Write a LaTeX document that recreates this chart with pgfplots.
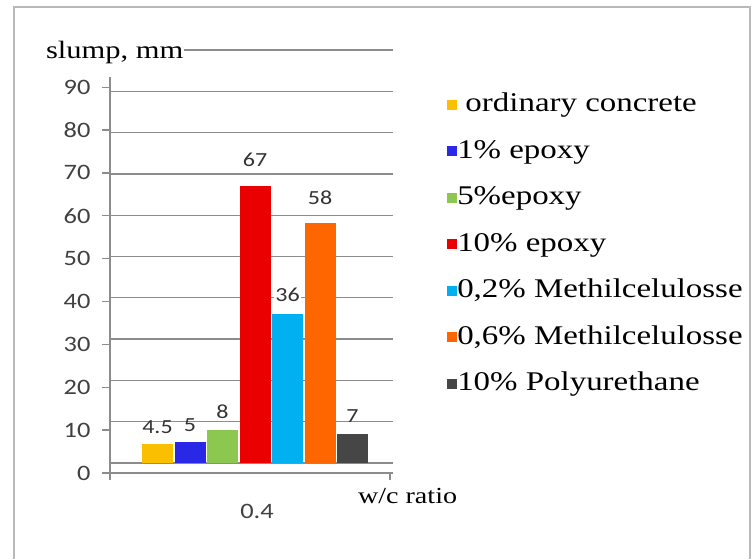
\documentclass[border=0pt]{standalone}
\usepackage{pgfplots}
\pgfplotsset{compat=1.18}
\usepackage{fontspec}
\setmainfont{Liberation Serif}[FakeStretch=1.2]
\newfontfamily\serifx{Liberation Serif}[FakeStretch=1.22]
\newfontfamily\calib{Carlito}[FakeStretch=1.2]
\definecolor{cA}{RGB}{250,192,0}
\definecolor{cB}{RGB}{40,40,230}
\definecolor{cC}{RGB}{140,200,80}
\definecolor{cD}{RGB}{235,0,0}
\definecolor{cE}{RGB}{0,176,240}
\definecolor{cF}{RGB}{255,102,0}
\definecolor{cG}{RGB}{70,70,70}
\definecolor{gridc}{RGB}{140,140,140}
\definecolor{tickc}{RGB}{64,64,64}
\begin{document}
\begin{tikzpicture}
\path (0,0) rectangle (752bp,559bp);
\draw[color=gray!55, line width=2bp] (14bp,0bp) -- (14bp,552bp) -- (750bp,552bp) -- (750bp,0bp);
\begin{axis}[
  at={(110bp,86bp)}, anchor=south west,
  scale only axis, width=283bp, height=423bp,
  xmin=-145, xmax=138, ymin=-2.424, ymax=100,
  ybar=1.5bp, bar width=31bp,
  axis x line*=bottom, axis y line*=left,
  axis line style={-, color=gridc, line width=1.3bp},
  y axis line style={draw=none},
  tick align=outside,
  ytick={-2.424,7.957,18.34,28.72,39.10,49.48,59.86,70.24,80.62,91.00},
  yticklabels={0,10,20,30,40,50,60,70,80,90},
  ytick style={color=gridc, line width=1.3bp},
  major tick length=8bp,
  yticklabel style={xshift=-8bp},
  extra y ticks={0,10,20,30,40,50,60,70,80,90,100},
  extra y tick labels={},
  extra y tick style={grid=major, major tick length=0pt},
  grid style={color=gridc, line width=1.3bp},
  xtick={0}, xticklabels={0.4},
  xtick style={draw=none},
  xticklabel style={anchor=center, yshift=-30bp, xshift=2bp},
  extra x ticks={-145,135}, extra x tick labels={},
  extra x tick style={major tick length=7bp, xtick style={draw=gridc, line width=1.3bp}},
  tick label style={font=\calib\fontsize{22bp}{26bp}\selectfont, color=tickc},
  /pgf/number format/assume math mode=true,
  nodes near coords,
  nodes near coords style={font=\calib\fontsize{20bp}{24bp}\selectfont, color=black!80, anchor=south, inner sep=0pt, yshift=11bp},
  legend style={at={(1.191,0.902)}, anchor=north west, draw=none, fill=none,
    font=\serifx\fontsize{27bp}{31bp}\selectfont, inner sep=0pt, row sep=20.5bp,
    nodes={text height=20bp, text depth=6bp, inner sep=0pt, font=\serifx\fontsize{27bp}{31bp}\selectfont}},
  legend cell align=left,
  clip=false,
]
\addplot[fill=cA, draw=none, legend image code/.code={\fill[cA] (0bp,-5bp) rectangle (10bp,5bp);}] coordinates {(0,4.5)};
\addlegendentry{\ ordinary concrete}
\addplot[fill=cB, draw=none, legend image code/.code={\fill[cB] (0bp,-5bp) rectangle (10bp,5bp);}] coordinates {(0,5)};
\addlegendentry{1\% epoxy}
\addplot[fill=cC, draw=none, legend image code/.code={\fill[cC] (0bp,-5bp) rectangle (10bp,5bp);}] coordinates {(0,8)};
\addlegendentry{5\%epoxy}
\addplot[fill=cD, draw=none, every node near coord/.append style={yshift=8bp}, legend image code/.code={\fill[cD] (0bp,-5bp) rectangle (10bp,5bp);}] coordinates {(0,67)};
\addlegendentry{10\% epoxy}
\addplot[fill=cE, draw=none, every node near coord/.append style={fill=white, inner sep=1bp}, legend image code/.code={\fill[cE] (0bp,-5bp) rectangle (10bp,5bp);}] coordinates {(0,36)};
\addlegendentry{0,2\% Methilcelulosse}
\addplot[fill=cF, draw=none, every node near coord/.append style={yshift=8bp}, legend image code/.code={\fill[cF] (0bp,-5bp) rectangle (10bp,5bp);}] coordinates {(0,58)};
\addlegendentry{0,6\% Methilcelulosse}
\addplot[fill=cG, draw=none, legend image code/.code={\fill[cG] (0bp,-5bp) rectangle (10bp,5bp);}] coordinates {(0,7)};
\addlegendentry{10\% Polyurethane}
\draw[color=gridc, line width=1.3bp] (axis cs:-145,-2.424) -- (axis cs:-145,93.5);
\node[fill=white, inner sep=1bp, anchor=base west, font=\serifx\fontsize{25bp}{29bp}\selectfont] at (axis description cs:-0.230,0.979) {slump, mm};
\node[inner sep=0pt, anchor=base west, font=\serifx\fontsize{23bp}{27bp}\selectfont] at (axis description cs:0.876,-0.071) {w/c ratio};
\end{axis}
\end{tikzpicture}
\end{document}
